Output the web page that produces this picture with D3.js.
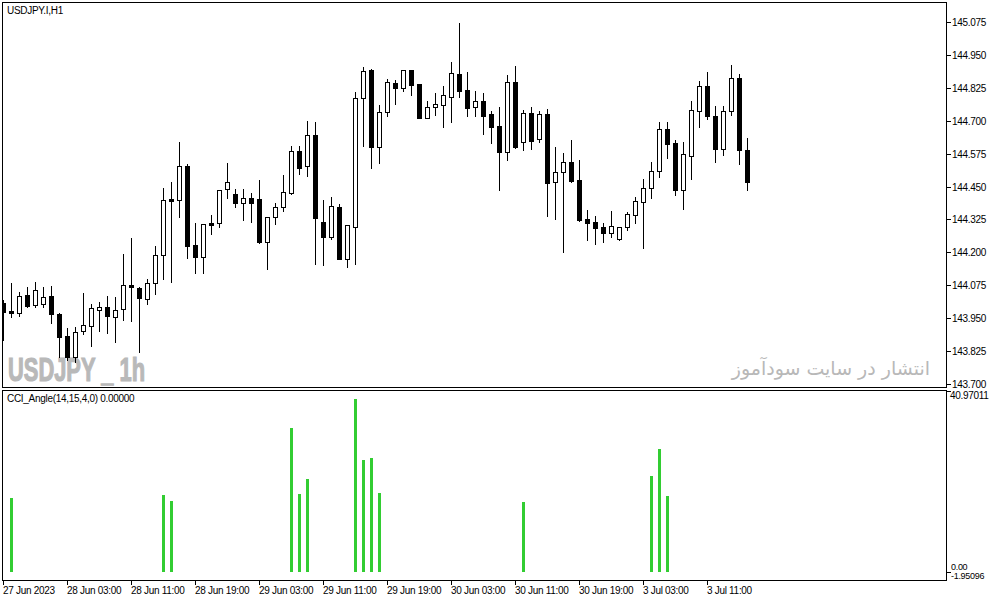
<!DOCTYPE html>
<html>
<head>
<meta charset="utf-8">
<script src="https://cdn.jsdelivr.net/npm/d3@7"></script>
<style>
  body { margin: 0; background: #fff; }
  text { font-family: "Liberation Sans", Arial, sans-serif; }
</style>
</head>
<body>
<div id="chart"></div>
<script>
// USDJPY.I H1 candles (bar 0 = 27 Jun 19:00)
let openP = [144.008,143.977,143.970,144.038,144.000,144.004,144.034,143.966,143.882,143.803,
  143.901,143.920,143.981,143.993,143.955,143.985,144.076,144.065,144.023,144.084,
  144.190,144.403,144.399,144.528,144.228,144.183,144.312,144.312,144.441,144.422,
  144.388,144.407,144.403,144.240,144.335,144.373,144.426,144.585,144.528,144.646,
  144.316,144.259,144.373,144.175,144.297,144.787,144.893,144.601,144.734,144.844,
  144.825,144.893,144.840,144.711,144.753,144.760,144.791,144.878,144.817,144.753,
  144.775,144.726,144.680,144.582,144.848,144.620,144.730,144.631,144.726,144.468,
  144.506,144.544,144.475,144.327,144.316,144.297,144.274,144.251,144.297,144.342,
  144.392,144.445,144.509,144.669,144.616,144.437,144.566,144.737,144.832,144.718,
  144.593,144.737,144.863,144.589];
let highP = [144.019,144.084,144.050,144.069,144.088,144.069,144.072,143.970,143.913,143.917,
  144.046,144.004,144.012,144.034,144.031,144.194,144.255,144.069,144.099,144.224,
  144.445,144.468,144.620,144.536,144.312,144.308,144.342,144.437,144.540,144.441,
  144.441,144.426,144.475,144.335,144.388,144.494,144.604,144.604,144.699,144.696,
  144.399,144.411,144.384,144.304,144.810,144.905,144.897,144.760,144.859,144.855,
  144.893,144.893,144.840,144.775,144.806,144.832,144.924,145.072,144.886,144.813,
  144.806,144.737,144.753,144.874,144.908,144.741,144.753,144.737,144.745,144.601,
  144.578,144.627,144.551,144.361,144.338,144.312,144.357,144.297,144.354,144.411,
  144.479,144.544,144.696,144.696,144.627,144.620,144.775,144.851,144.886,144.756,
  144.756,144.912,144.878,144.635];
let lowP = [143.867,143.955,143.958,143.993,143.993,143.993,143.932,143.803,143.791,143.784,
  143.890,143.844,143.901,143.894,143.860,143.943,143.939,143.822,144.004,144.042,
  144.099,144.088,144.335,144.179,144.122,144.122,144.270,144.297,144.407,144.373,
  144.323,144.316,144.236,144.137,144.308,144.357,144.422,144.498,144.490,144.156,
  144.152,144.251,144.175,144.145,144.156,144.604,144.521,144.540,144.718,144.764,
  144.813,144.798,144.711,144.711,144.722,144.677,144.696,144.791,144.718,144.718,
  144.650,144.616,144.437,144.551,144.597,144.589,144.593,144.620,144.338,144.327,
  144.202,144.468,144.319,144.247,144.232,144.240,144.259,144.247,144.285,144.312,
  144.217,144.407,144.487,144.559,144.418,144.365,144.479,144.677,144.707,144.544,
  144.570,144.722,144.536,144.437];
let closeP = [143.974,143.970,144.034,143.996,144.057,144.031,143.966,143.879,143.803,143.898,
  143.924,143.989,143.993,143.958,143.981,144.076,144.069,144.027,144.084,144.190,
  144.399,144.395,144.528,144.224,144.183,144.308,144.304,144.437,144.468,144.388,
  144.407,144.388,144.240,144.335,144.373,144.430,144.585,144.521,144.646,144.331,
  144.259,144.376,144.175,144.304,144.787,144.889,144.601,144.734,144.848,144.825,
  144.893,144.836,144.711,144.753,144.764,144.798,144.882,144.813,144.749,144.775,
  144.718,144.677,144.582,144.848,144.601,144.730,144.623,144.726,144.464,144.506,
  144.544,144.471,144.323,144.312,144.293,144.274,144.300,144.297,144.346,144.395,
  144.445,144.509,144.669,144.612,144.437,144.574,144.741,144.832,144.718,144.593,
  144.737,144.863,144.589,144.468];

// CCI_Angle histogram (0 = no bar)
let cciVals = [0,17.07,0,0,0,0,0,0,0,0,
  0,0,0,0,0,0,0,0,0,0,
  17.76,16.37,0,0,0,0,0,0,0,0,
  0,0,0,0,0,0,33.30,18.00,21.47,0,
  0,0,0,0,40.03,25.88,26.35,18.23,0,0,
  0,0,0,0,0,0,0,0,0,0,
  0,0,0,0,0,16.14,0,0,0,0,
  0,0,0,0,0,0,0,0,0,0,
  0,22.17,28.43,17.53,0,0,0,0,0,0,
  0,0,0,0];
let cciMax = 40.97011, cciMin = -1.95096;

let priceTicks = [145.075,144.950,144.825,144.700,144.575,144.450,144.325,144.200,144.075,143.950,143.825,143.700];
let timeLabels = ["27 Jun 2023","28 Jun 03:00","28 Jun 11:00","28 Jun 19:00","29 Jun 03:00","29 Jun 11:00",
  "29 Jun 19:00","30 Jun 03:00","30 Jun 11:00","30 Jun 19:00","3 Jul 03:00","3 Jul 11:00"];
let timeIdx = [0,8,16,24,32,40,48,56,64,72,80,88];

let W = 993, H = 601;
let svg = d3.select("#chart").append("svg").attr("width", W).attr("height", H)
  .style("display", "block").attr("shape-rendering", "crispEdges");

let x = d3.scaleLinear().domain([0, 93]).range([3, 747]);
let y = d3.scaleLinear().domain([143.700, 145.075]).range([384, 22]);
let yc = d3.scaleLinear().domain([cciMin, cciMax]).range([580, 395]);

/* clip regions for the two panes */
let defs = svg.append("defs");
defs.append("clipPath").attr("id", "mainClip").append("rect").attr("x", 3).attr("y", 3).attr("width", 943).attr("height", 384);
defs.append("clipPath").attr("id", "subClip").append("rect").attr("x", 3).attr("y", 391).attr("width", 943).attr("height", 189);

/* watermark texts */
svg.append("text").attr("x", 8).attr("y", 381)
  .attr("textLength", 137).attr("lengthAdjust", "spacingAndGlyphs")
  .style("font-family", "'Liberation Sans Narrow','Liberation Sans',sans-serif")
  .style("font-weight", "bold").style("font-size", "33px")
  .style("fill", "#b9b9b9").style("stroke", "#b9b9b9").style("stroke-width", 1.2)
  .attr("shape-rendering", "auto")
  .text("USDJPY _ 1h");
svg.append("text").attr("x", 930).attr("y", 375).attr("text-anchor", "end")
  .style("font-family", "'DejaVu Sans',sans-serif").style("font-size", "19px").style("fill", "#b8b8b8")
  .text("انتشار در سایت سودآموز");

/* candles */
let candles = svg.append("g").attr("clip-path", "url(#mainClip)");
for (let i = 0; i < openP.length; i++) {
  let cx = Math.round(x(i));
  let up = closeP[i] >= openP[i];
  candles.append("line")
    .attr("x1", cx + 0.5).attr("x2", cx + 0.5)
    .attr("y1", Math.round(y(highP[i]))).attr("y2", Math.round(y(lowP[i])) + 1)
    .style("stroke", "#000").style("stroke-width", 1);
  let top = Math.round(y(Math.max(openP[i], closeP[i])));
  let bot = Math.round(y(Math.min(openP[i], closeP[i])));
  if (bot - top < 1) bot = top + 1;
  candles.append("rect")
    .attr("x", cx - 1.5).attr("y", top + 0.5)
    .attr("width", 4).attr("height", bot - top)
    .style("fill", up ? "#fff" : "#000")
    .style("stroke", "#000").style("stroke-width", 1);
}

/* indicator histogram */
let sub = svg.append("g").attr("clip-path", "url(#subClip)");
cciVals.forEach(function(v, i) {
  if (v == 0) return;
  let cx = Math.round(x(i));
  let t = Math.round(yc(v)), b = Math.round(yc(0));
  sub.append("rect").attr("x", cx - 1).attr("y", t).attr("width", 3).attr("height", b - t)
    .style("fill", "#32cd32");
});

/* pane frames */
svg.append("rect").attr("x", 2.5).attr("y", 2.5).attr("width", 944).attr("height", 385)
  .style("fill", "none").style("stroke", "#000");
svg.append("rect").attr("x", 2.5).attr("y", 390.5).attr("width", 944).attr("height", 190)
  .style("fill", "none").style("stroke", "#000");

/* price axis */
let pAxis = svg.append("g");
priceTicks.forEach(function(p) {
  let py = Math.round(y(p));
  pAxis.append("line").attr("x1", 947).attr("x2", 951).attr("y1", py + 0.5).attr("y2", py + 0.5).style("stroke", "#000");
  pAxis.append("text").attr("x", 952).attr("y", py + 4).style("font-size", "10px").style("fill", "#000")
    .attr("letter-spacing", "-0.3").text(p.toFixed(3));
});

/* indicator axis */
let cAxis = svg.append("g");
cAxis.append("line").attr("x1", 947).attr("x2", 951).attr("y1", 391.5).attr("y2", 391.5).style("stroke", "#000");
cAxis.append("text").attr("x", 950).attr("y", Math.round(yc(cciMax)) + 4).style("font-size", "10px")
  .attr("letter-spacing", "-0.3").text(cciMax.toFixed(5));
cAxis.append("line").attr("x1", 947).attr("x2", 951).attr("y1", Math.round(yc(0)) + 0.5).attr("y2", Math.round(yc(0)) + 0.5).style("stroke", "#000");
// zero and minimum labels sit very close; keep them apart vertically
cAxis.append("text").attr("x", 951).attr("y", Math.round(yc(0)) - 2).style("font-size", "9px")
  .attr("letter-spacing", "-0.3").text("0.00");
cAxis.append("text").attr("x", 951).attr("y", Math.round(yc(cciMin)) - 1).style("font-size", "9px")
  .attr("letter-spacing", "-0.3").text(cciMin.toFixed(5));

/* time axis */
let tAxis = svg.append("g");
timeIdx.forEach(function(idx, k) {
  let tx = Math.round(x(idx));
  tAxis.append("line").attr("x1", tx + 0.5).attr("x2", tx + 0.5).attr("y1", 581).attr("y2", 585).style("stroke", "#000");
  tAxis.append("text").attr("x", tx).attr("y", 594).style("font-size", "10px")
    .attr("letter-spacing", "-0.3").text(timeLabels[k]);
});

/* pane captions */
svg.append("text").attr("x", 7).attr("y", 14).style("font-size", "10px").attr("letter-spacing", "-0.3").text("USDJPY.I,H1");
svg.append("text").attr("x", 7).attr("y", 402).style("font-size", "10px").attr("letter-spacing", "-0.3").text("CCI_Angle(14,15,4,0) 0.00000");
</script>
</body>
</html>
